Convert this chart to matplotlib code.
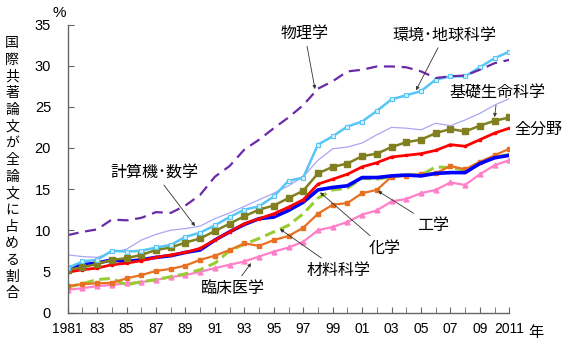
import matplotlib
matplotlib.use('Agg')
import matplotlib.pyplot as plt
import numpy as np

plt.rcParams['font.family'] = ['Liberation Sans', 'Noto Sans CJK JP', 'DejaVu Sans']

years = list(range(1981, 2012))

physics = [9.4, 9.8, 10.1, 11.3, 11.2, 11.5, 12.2, 12.1, 13.0, 14.3, 16.5, 17.8, 19.8, 21.0, 22.4,
           23.7, 25.2, 27.2, 28.1, 29.3, 29.5, 29.9, 29.9, 29.8, 29.3, 28.5, 28.7, 28.8, 29.5, 30.3, 30.7]
env_earth = [5.4, 6.2, 6.4, 7.5, 7.4, 7.5, 7.9, 8.2, 9.2, 9.7, 10.6, 11.6, 12.5, 12.9, 14.1,
             16.0, 16.4, 20.4, 21.4, 22.6, 23.2, 24.5, 25.9, 26.4, 26.9, 28.3, 28.7, 28.7, 29.8, 30.9, 31.7]
comp_math = [7.0, 6.8, 6.7, 7.3, 7.7, 8.8, 9.5, 10.0, 10.2, 10.5, 11.4, 12.1, 12.9, 13.7, 14.5,
             15.4, 16.5, 18.5, 19.9, 20.1, 20.6, 21.6, 22.5, 22.4, 22.2, 23.0, 22.7, 23.4, 24.2, 25.2, 26.0]
life_sci = [5.2, 5.5, 5.9, 6.4, 6.6, 7.0, 7.6, 7.9, 8.5, 9.0, 9.9, 10.8, 11.7, 12.5, 13.0,
            13.9, 14.8, 16.9, 17.7, 18.1, 19.0, 19.3, 20.1, 20.7, 21.0, 21.8, 22.3, 22.0, 22.7, 23.3, 23.7]
all_fields = [4.9, 5.2, 5.4, 5.8, 6.0, 6.3, 6.7, 7.0, 7.3, 7.8, 8.8, 9.8, 10.8, 11.4, 12.0,
              12.8, 13.7, 15.6, 16.2, 16.8, 17.7, 18.2, 18.9, 19.1, 19.3, 19.7, 20.4, 20.2, 21.0, 21.8, 22.4]
chemistry = [5.4, 5.8, 6.0, 6.4, 6.2, 6.4, 6.7, 6.9, 7.3, 7.6, 8.8, 9.8, 10.7, 11.4, 11.6,
             12.4, 13.4, 14.9, 15.2, 15.4, 16.4, 16.4, 16.6, 16.7, 16.6, 16.9, 17.0, 17.0, 18.1, 18.8, 19.1]
materials = [3.1, 3.5, 4.0, 4.15, 3.35, 3.75, 4.0, 4.35, 4.7, 5.2, 6.0, 7.5, 8.3, 9.0, 9.8,
             10.6, 12.0, 13.9, 14.9, 15.1, 16.3, 16.2, 16.5, 16.8, 16.7, 17.7, 17.6, 17.3, 18.3, 18.9, 19.2]
engineering = [3.2, 3.45, 3.55, 3.6, 4.15, 4.55, 5.05, 5.3, 5.7, 6.4, 6.9, 7.6, 8.4, 8.1, 8.8,
               9.3, 10.3, 12.0, 13.1, 13.3, 14.5, 14.9, 16.5, 16.6, 16.8, 16.9, 17.8, 17.4, 18.3, 19.1, 19.9]
clinical = [2.75, 2.95, 3.2, 3.35, 3.55, 3.7, 3.95, 4.3, 4.55, 4.95, 5.4, 5.8, 6.2, 6.8, 7.4,
            7.9, 8.6, 10.0, 10.4, 11.0, 11.9, 12.4, 13.5, 13.8, 14.5, 14.9, 15.8, 15.5, 16.8, 17.9, 18.5]

tick_years = list(range(1981, 2012, 2))
tick_labels = ['1981', '83', '85', '87', '89', '91', '93', '95', '97', '99',
               '01', '03', '05', '07', '09', '2011']
ylabel = '国際共著論文が全論文に占める割合'

fig = plt.figure(figsize=(5.65, 3.5), dpi=100)
ax = fig.add_axes([67.7 / 565, 37.5 / 350, 441.6 / 565, 288 / 350])

ax.plot(years, clinical, color='#ff80c8', lw=1.6, marker='^', ms=3.5, mec='#ff80c8')
ax.plot(years, materials, color='#99cc33', lw=2.2, ls=(0, (3.5, 1.8)))
ax.plot(years, engineering, color='#e87020', lw=1.6, marker='s', ms=3.5)
ax.plot(years, chemistry, color='#0000ff', lw=2.6)
ax.plot(years, all_fields, color='#ff0000', lw=2.0, marker='s', ms=2)
ax.plot(years, life_sci, color='#808020', lw=1.8, marker='s', ms=4)
ax.plot(years, comp_math, color='#aaa6f2', lw=0.9)
ax.plot(years, env_earth, color='#55c6f5', lw=1.8, marker='s', ms=3.5,
        mfc='#d4f0fc', mec='#55c6f5', mew=0.8)
ax.plot(years, physics, color='#6a2aa8', lw=1.6, ls=(0, (5, 3)))

ax.set_xlim(1981, 2011)
ax.set_ylim(0, 35)
ax.set_yticks(range(0, 36, 5))
ax.set_xticks(years, minor=True)
ax.set_xticks(tick_years)
ax.set_xticklabels(tick_labels)
for s in ['top', 'right']:
    ax.spines[s].set_visible(False)
for s in ['left', 'bottom']:
    ax.spines[s].set_color('#666666')
    ax.spines[s].set_linewidth(1.0)
ax.tick_params(axis='x', which='both', direction='in', length=4, color='#666666',
               labelsize=10, pad=7)
ax.tick_params(axis='y', direction='in', length=4, color='#666666', labelsize=10.5, pad=12)

arrow = dict(arrowstyle='-|>', lw=0.6, color='#333333', mutation_scale=5, shrinkA=1, shrinkB=0)
jp = dict(fontsize=11.5, family=['Noto Sans CJK JP'], ha='center', va='center')

ax.annotate('物理学', xy=(1997.8, 27.15), xytext=(1997.1, 33.9), arrowprops=arrow, **jp)
ax.annotate('環境･地球科学', xy=(2004.66, 27.0), xytext=(2006.6, 33.7), arrowprops=arrow, **jp)
ax.annotate('基礎生命科学', xy=(2010.0, 23.75), xytext=(2010.2, 26.7), arrowprops=arrow,
            annotation_clip=False, **jp)
ax.annotate('全分野', xy=(2012.95, 22.2), xytext=(2012.95, 22.2), annotation_clip=False, **jp)
ax.annotate('計算機･数学', xy=(1989.65, 10.5), xytext=(1986.9, 17.0), arrowprops=arrow, **jp)
ax.annotate('化学', xy=(1998.14, 14.6), xytext=(2002.5, 7.85), arrowprops=arrow, **jp)
ax.annotate('材料科学', xy=(1995.42, 10.15), xytext=(1999.4, 5.15), arrowprops=arrow, **jp)
ax.annotate('臨床医学', xy=(1993.46, 6.0), xytext=(1992.2, 2.95), arrowprops=arrow, **jp)
ax.annotate('工学', xy=(2002.08, 14.76), xytext=(2005.8, 10.6), arrowprops=arrow, **jp)

fig.text(59 / 565, 1 - 13 / 350, '%', fontsize=11, ha='center', va='center')
fig.text(536 / 565, 1 - 332 / 350, '年', fontsize=11, ha='center', va='center',
         family=['Noto Sans CJK JP'])
for i, ch in enumerate(ylabel):
    fig.text(12 / 565, 1 - (43 + i * 16.7) / 350, ch, fontsize=10, ha='center', va='center',
             family=['Noto Sans CJK JP'])

fig.savefig('out.png', dpi=100, facecolor='white')
